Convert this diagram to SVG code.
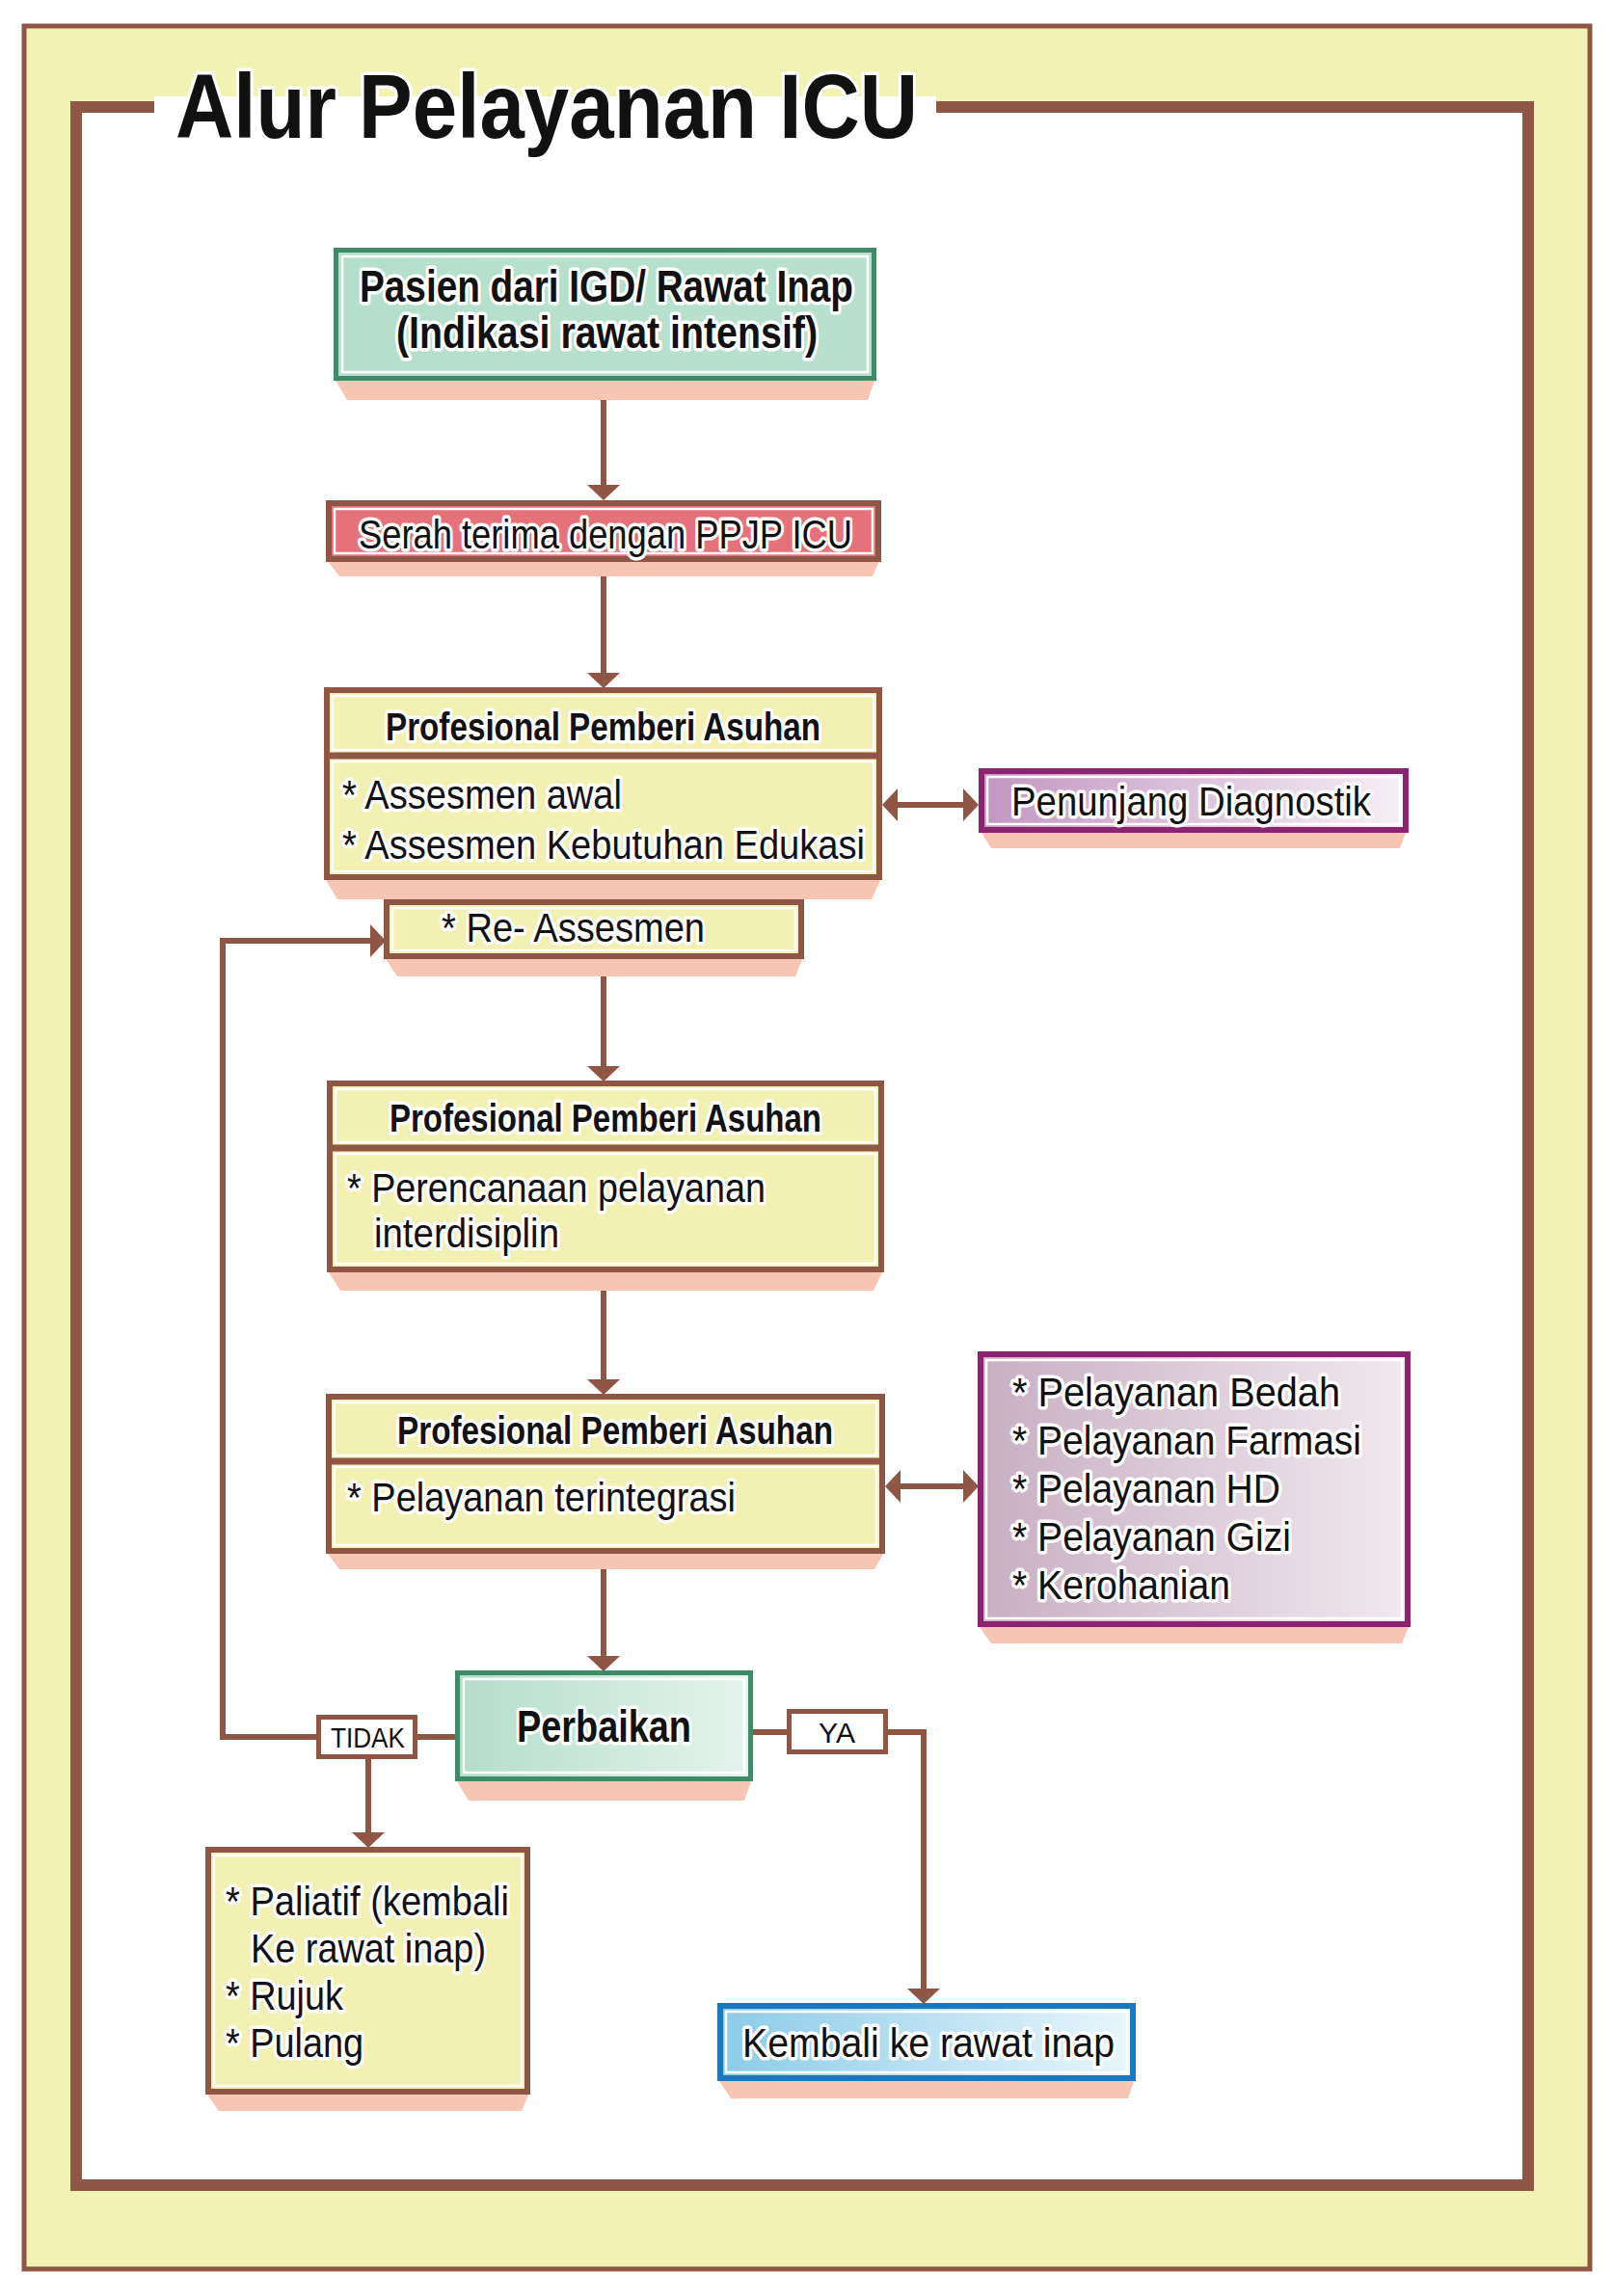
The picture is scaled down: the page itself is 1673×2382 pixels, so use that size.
<svg xmlns="http://www.w3.org/2000/svg" width="1673" height="2382" viewBox="0 0 1673 2382">
<defs>
<style>
.t{font-family:"Liberation Sans",Arial,Helvetica,sans-serif;fill:#111;paint-order:stroke;stroke:#fff;stroke-width:7px;stroke-linejoin:round;}
.r{font-size:43px;}
.h{font-size:40px;font-weight:bold;}
.b{font-weight:bold;}
.lbl{font-family:"Liberation Sans",Arial,Helvetica,sans-serif;fill:#111;font-size:30px;}
.edge{fill:none;stroke:#8f5545;stroke-width:6;}
.sh{fill:#f6c5b3;}
.brd{stroke:#8f5545;stroke-width:6;}
.inl{fill:none;stroke:#fff;stroke-width:2.5;}
.yel{fill:#f2f0b2;}
</style>
<marker id="ah" markerUnits="userSpaceOnUse" markerWidth="16" markerHeight="34" refX="0" refY="17" orient="auto-start-reverse" viewBox="0 0 16 34">
<path d="M0,0 L16,17 L0,34 Z" fill="#8f5545"/>
</marker>
<linearGradient id="gGreen" x1="0" y1="0" x2="1" y2="0"><stop offset="0" stop-color="#b3ddca"/><stop offset="1" stop-color="#e6f4ee"/></linearGradient>
<linearGradient id="gGreen1" x1="0" y1="0" x2="1" y2="0"><stop offset="0" stop-color="#b5dfcc"/><stop offset="1" stop-color="#b9e0cf"/></linearGradient>
<linearGradient id="gPurp" x1="0" y1="0" x2="1" y2="0"><stop offset="0" stop-color="#c296c2"/><stop offset="1" stop-color="#f6f0f6"/></linearGradient>
<linearGradient id="gServ" x1="0" y1="0" x2="1" y2="0"><stop offset="0" stop-color="#c8afc4"/><stop offset="1" stop-color="#f1e9ef"/></linearGradient>
<linearGradient id="gBlue" x1="0" y1="0" x2="1" y2="0"><stop offset="0" stop-color="#8ccbe8"/><stop offset="1" stop-color="#e9f6fc"/></linearGradient>
</defs>

<!-- page background -->
<rect x="0" y="0" width="1673" height="2382" fill="#fff"/>
<rect x="25" y="27" width="1624" height="2327" fill="#f3f2b5" stroke="#8f5545" stroke-width="5"/>
<!-- inner frame -->
<rect x="79" y="111" width="1506" height="2156" fill="#fff" stroke="#8f5545" stroke-width="12"/>
<rect x="160" y="100" width="811" height="20" fill="#fff"/>
<text class="t b" x="182" y="143" font-size="94" textLength="770" lengthAdjust="spacingAndGlyphs" stroke-width="8">Alur Pelayanan ICU</text>

<!-- connectors -->
<g id="connectors">
<path class="edge" d="M626,413 V503" marker-end="url(#ah)"/>
<path class="edge" d="M626,596 V698" marker-end="url(#ah)"/>
<path class="edge" d="M626,1011 V1106" marker-end="url(#ah)"/>
<path class="edge" d="M626,1337 V1431" marker-end="url(#ah)"/>
<path class="edge" d="M626,1626 V1718" marker-end="url(#ah)"/>
<path class="edge" d="M931,835 H999" marker-start="url(#ah)" marker-end="url(#ah)"/>
<path class="edge" d="M934,1542 H999" marker-start="url(#ah)" marker-end="url(#ah)"/>
<path class="edge" d="M472,1802 H433"/>
<path class="edge" d="M328,1802 H231 V976 H384" marker-end="url(#ah)"/>
<path class="edge" d="M382,1825 V1901" marker-end="url(#ah)"/>
<path class="edge" d="M781,1797 H816"/>
<path class="edge" d="M921,1797 H958 V2063" marker-end="url(#ah)"/>
<g id="label-tidak">
<rect x="330.5" y="1781.5" width="100" height="41" fill="#fff" stroke="#8f5545" stroke-width="5"/>
<text class="lbl" x="343" y="1813" textLength="77" lengthAdjust="spacingAndGlyphs">TIDAK</text>
</g>
<g id="label-ya">
<rect x="818.5" y="1775.5" width="100" height="42" fill="#fff" stroke="#8f5545" stroke-width="5"/>
<text class="lbl" x="849" y="1808" textLength="38" lengthAdjust="spacingAndGlyphs">YA</text>
</g>
</g>

<!-- N1 -->
<g id="n1">
<polygon class="sh" points="348,395 907,395 900,415 360,415"/>
<rect x="348.5" y="259.5" width="558" height="133" fill="url(#gGreen1)" stroke="#3f8b68" stroke-width="5"/>
<rect x="355" y="266" width="545" height="120" class="inl"/>
<text class="t b" x="373" y="313" font-size="46" textLength="512" lengthAdjust="spacingAndGlyphs">Pasien dari IGD/ Rawat Inap</text>
<text class="t b" x="411" y="361" font-size="46" textLength="437" lengthAdjust="spacingAndGlyphs">(Indikasi rawat intensif)</text>
</g>

<!-- N2 -->
<g id="n2">
<polygon class="sh" points="340,582 912,582 905,598 352,598"/>
<rect x="341" y="522" width="570" height="58" fill="#e5727a" class="brd"/>
<rect x="347" y="528" width="558" height="46" class="inl"/>
<text class="t r" x="372" y="569" textLength="512" lengthAdjust="spacingAndGlyphs">Serah terima dengan PPJP ICU</text>
</g>

<!-- N3 -->
<g id="n3">
<polygon class="sh" points="338,913 913,913 904,933 350,933"/>
<rect x="339" y="716" width="573" height="194" class="yel brd"/>
<rect x="345" y="722" width="561" height="56" class="inl"/>
<rect x="345" y="790" width="561" height="114" class="inl"/>
<path d="M339,784 H912" stroke="#8f5545" stroke-width="7"/>
<text class="t h" x="400" y="768" textLength="451" lengthAdjust="spacingAndGlyphs">Profesional Pemberi Asuhan</text>
<text class="t r" x="355" y="839" textLength="290" lengthAdjust="spacingAndGlyphs">* Assesmen awal</text>
<text class="t r" x="355" y="891" textLength="542" lengthAdjust="spacingAndGlyphs">* Assesmen Kebutuhan Edukasi</text>
</g>

<!-- N4 -->
<g id="n4">
<polygon class="sh" points="1018,864 1458,864 1452,880 1028,880"/>
<rect x="1018" y="800" width="440" height="61" fill="url(#gPurp)" stroke="#8b236f" stroke-width="6"/>
<rect x="1024" y="806" width="428" height="49" class="inl"/>
<text class="t r" x="1049" y="846" textLength="373" lengthAdjust="spacingAndGlyphs">Penunjang Diagnostik</text>
</g>

<!-- N5 -->
<g id="n5">
<polygon class="sh" points="400,995 832,995 825,1013 412,1013"/>
<rect x="401" y="936" width="430" height="56" class="yel brd"/>
<rect x="407" y="942" width="418" height="44" class="inl"/>
<text class="t r" x="458" y="977" textLength="273" lengthAdjust="spacingAndGlyphs">* Re- Assesmen</text>
</g>

<!-- N6 -->
<g id="n6">
<polygon class="sh" points="341,1320 915,1320 906,1339 353,1339"/>
<rect x="342" y="1124" width="572" height="193" class="yel brd"/>
<rect x="348" y="1130" width="560" height="55" class="inl"/>
<rect x="348" y="1197" width="560" height="114" class="inl"/>
<path d="M342,1191 H914" stroke="#8f5545" stroke-width="7"/>
<text class="t h" x="404" y="1174" textLength="448" lengthAdjust="spacingAndGlyphs">Profesional Pemberi Asuhan</text>
<text class="t r" x="360" y="1247" textLength="434" lengthAdjust="spacingAndGlyphs">* Perencanaan pelayanan</text>
<text class="t r" x="388" y="1294" textLength="192" lengthAdjust="spacingAndGlyphs">interdisiplin</text>
</g>

<!-- N7 -->
<g id="n7">
<polygon class="sh" points="340,1612 916,1612 907,1628 352,1628"/>
<rect x="341" y="1449" width="574" height="160" class="yel brd"/>
<rect x="347" y="1455" width="562" height="55" class="inl"/>
<rect x="347" y="1522" width="562" height="81" class="inl"/>
<path d="M341,1516 H915" stroke="#8f5545" stroke-width="7"/>
<text class="t h" x="412" y="1498" textLength="452" lengthAdjust="spacingAndGlyphs">Profesional Pemberi Asuhan</text>
<text class="t r" x="360" y="1568" textLength="403" lengthAdjust="spacingAndGlyphs">* Pelayanan terintegrasi</text>
</g>

<!-- N8 -->
<g id="n8">
<polygon class="sh" points="1016,1688 1461,1688 1454,1705 1028,1705"/>
<rect x="1017" y="1405" width="443" height="280" fill="url(#gServ)" stroke="#8b236f" stroke-width="6"/>
<rect x="1023" y="1411" width="431" height="268" class="inl"/>
<text class="t r" x="1050" y="1459" textLength="340" lengthAdjust="spacingAndGlyphs">* Pelayanan Bedah</text>
<text class="t r" x="1050" y="1509" textLength="362" lengthAdjust="spacingAndGlyphs">* Pelayanan Farmasi</text>
<text class="t r" x="1050" y="1559" textLength="278" lengthAdjust="spacingAndGlyphs">* Pelayanan HD</text>
<text class="t r" x="1050" y="1609" textLength="289" lengthAdjust="spacingAndGlyphs">* Pelayanan Gizi</text>
<text class="t r" x="1050" y="1659" textLength="226" lengthAdjust="spacingAndGlyphs">* Kerohanian</text>
</g>

<!-- N9 -->
<g id="n9">
<polygon class="sh" points="474,1848 779,1848 772,1868 486,1868"/>
<rect x="474.5" y="1735.5" width="304" height="110" fill="url(#gGreen)" stroke="#3f8b68" stroke-width="5"/>
<rect x="481" y="1742" width="291" height="97" class="inl"/>
<text class="t b" x="536" y="1807" font-size="47" textLength="181" lengthAdjust="spacingAndGlyphs">Perbaikan</text>
</g>

<!-- N10 -->
<g id="n10">
<polygon class="sh" points="215,2173 548,2173 541,2190 227,2190"/>
<rect x="216" y="1919" width="331" height="251" class="yel brd"/>
<rect x="222" y="1925" width="319" height="239" class="inl"/>
<text class="t r" x="234" y="1987" textLength="294" lengthAdjust="spacingAndGlyphs">* Paliatif (kembali</text>
<text class="t r" x="260" y="2036" textLength="244" lengthAdjust="spacingAndGlyphs">Ke rawat inap)</text>
<text class="t r" x="234" y="2085" textLength="122" lengthAdjust="spacingAndGlyphs">* Rujuk</text>
<text class="t r" x="234" y="2134" textLength="143" lengthAdjust="spacingAndGlyphs">* Pulang</text>
</g>

<!-- N11 -->
<g id="n11">
<polygon class="sh" points="746,2159 1176,2159 1170,2177 758,2177"/>
<rect x="747" y="2081" width="428" height="75" fill="url(#gBlue)" stroke="#1a78bc" stroke-width="6"/>
<rect x="753" y="2087" width="416" height="63" class="inl"/>
<text class="t r" x="770" y="2134" textLength="386" lengthAdjust="spacingAndGlyphs">Kembali ke rawat inap</text>
</g>
</svg>
